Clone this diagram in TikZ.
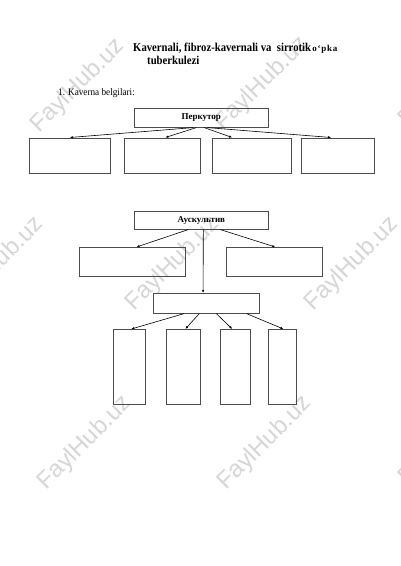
\documentclass[tikz,border=0pt]{standalone}
\usepackage{fontspec}
\setmainfont{Liberation Serif}
\newfontfamily\titlefont[FakeStretch=0.89]{Liberation Serif}
\newfontfamily\listfont[FakeStretch=0.92]{Liberation Serif}
\newfontfamily\wmfont{Liberation Sans}
\usetikzlibrary{arrows.meta,calc}
\begin{document}
\begin{tikzpicture}[x=1pt,y=-1pt,
  box/.style={draw=black!70, line width=0.6pt, anchor=north west, inner sep=0pt},
  conn/.style={draw=black, line width=0.6pt, -{Latex[length=3pt,width=2.4pt]}},
  wm/.style={text=black!16, font=\wmfont\fontsize{24}{24}\selectfont, rotate=45, inner sep=0pt},
  lbl/.style={font=\bfseries\fontsize{9}{9}\selectfont}]
\fill[white] (0,0) rectangle (400,566);
\useasboundingbox (0,0) rectangle (400,566);
\clip (0,0) rectangle (400,566);
% watermarks
\node[wm] (w1) at (78,86) {FaylHub.uz};
\node[wm] (w2) at (262,84) {FaylHub.uz};
\node[wm] (w3) at (446,80) {FaylHub.uz};
\node[wm] (w4) at (-3,264) {FaylHub.uz};
\node[wm] (w5) at (173,264) {FaylHub.uz};
\node[wm] (w6) at (352,264) {FaylHub.uz};
\node[wm] (w7) at (85,443) {FaylHub.uz};
\node[wm] (w8) at (265,443) {FaylHub.uz};
\node[wm] (w9) at (446,438) {FaylHub.uz};
% title
\node[anchor=base west, font=\titlefont\bfseries\fontsize{12}{12}\selectfont, inner sep=0pt] (t1) at (133,51) {Kavernali, fibroz-kavernali va\ \ sirrotik};
\node[anchor=base west, font=\bfseries\fontsize{9}{9}\selectfont\addfontfeature{LetterSpace=8}, inner sep=0pt] (t2) at ($(t1.base east)+(1,0)$) {o‘pka};
\node[anchor=base west, font=\titlefont\bfseries\fontsize{12}{12}\selectfont, inner sep=0pt] (t3) at (147,64) {tuberkulezi};
\node[anchor=base west, font=\listfont\fontsize{10}{10}\selectfont, inner sep=0pt] (t4) at (58,95) {1. Kaverna belgilari:};
% Perkutor
\node[box, lbl, minimum width=134pt, minimum height=19pt] (perk) at (134,108) {Перкутор};
\node[box, minimum width=81pt, minimum height=35.5pt] (b1) at (29,137.5) {};
\node[box, minimum width=76pt, minimum height=35.5pt] (b2) at (124,137.5) {};
\node[box, minimum width=79pt, minimum height=35.5pt] (b3) at (212,137.5) {};
\node[box, minimum width=73pt, minimum height=35.5pt] (b4) at (301,137.5) {};
\draw[conn] ($(perk.south west)!0.44!(perk.south east)$) -- (b1.north);
\draw[conn] ($(perk.south west)!0.463!(perk.south east)$) -- ($(b2.north west)!0.54!(b2.north east)$);
\draw[conn] ($(perk.south west)!0.522!(perk.south east)$) -- ($(b3.north west)!0.253!(b3.north east)$);
\draw[conn] ($(perk.south west)!0.545!(perk.south east)$) -- ($(b4.north west)!0.41!(b4.north east)$);
% Auskultiv
\node[box, lbl, minimum width=134pt, minimum height=18pt] (ausk) at (134,211) {Аускультив};
\node[box, minimum width=106pt, minimum height=28.5pt] (s1) at (79,247) {};
\node[box, minimum width=96pt, minimum height=28.5pt] (s2) at (226,247) {};
\node[box, minimum width=106pt, minimum height=20pt] (mid) at (153,293) {};
\draw[conn] ($(ausk.south west)!0.403!(ausk.south east)$) -- ($(s1.north west)!0.54!(s1.north east)$);
\draw[conn] ($(ausk.south west)!0.642!(ausk.south east)$) -- ($(s2.north west)!0.51!(s2.north east)$);
\draw[conn] ($(ausk.south west)!0.515!(ausk.south east)$) -- ($(mid.north west)!0.47!(mid.north east)$);
% tall boxes
\node[box, minimum width=32pt, minimum height=75pt] (c1) at (113,329) {};
\node[box, minimum width=34pt, minimum height=75pt] (c2) at (166,329) {};
\node[box, minimum width=30pt, minimum height=75pt] (c3) at (220,329) {};
\node[box, minimum width=28pt, minimum height=75pt] (c4) at (268,329) {};
\draw[conn] ($(mid.south west)!0.292!(mid.south east)$) -- ($(c1.north west)!0.56!(c1.north east)$);
\draw[conn] ($(mid.south west)!0.434!(mid.south east)$) -- ($(c2.north west)!0.56!(c2.north east)$);
\draw[conn] ($(mid.south west)!0.594!(mid.south east)$) -- ($(c3.north west)!0.4!(c3.north east)$);
\draw[conn] ($(mid.south west)!0.877!(mid.south east)$) -- ($(c4.north west)!0.54!(c4.north east)$);
\end{tikzpicture}
\end{document}
